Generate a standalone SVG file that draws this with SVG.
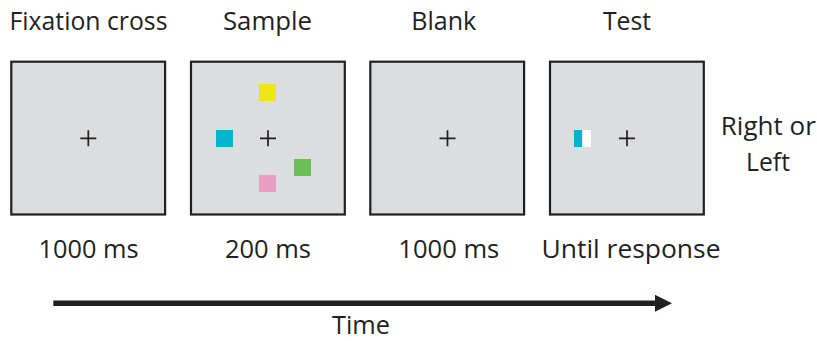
<svg xmlns="http://www.w3.org/2000/svg" width="817" height="341" viewBox="0 0 817 341">
  <defs>
    <style>
      .lbl { font-family: "Open Sans", "Liberation Sans", sans-serif; font-size: 25px; fill: #231F20; text-anchor: middle; }
      .screen { fill: #DCDDDF; stroke: #231F20; stroke-width: 2.2; }
      .cross { stroke: #231F20; stroke-width: 1.7; fill: none; }
      .arrow { stroke: #231F20; stroke-width: 5.4; fill: none; }
    </style>
    <marker id="head" markerUnits="userSpaceOnUse" markerWidth="17" markerHeight="17" viewBox="0 0 17 17" refX="1" refY="8.5" orient="auto">
      <path d="M0,0 L17,8.5 L0,17 Z" fill="#231F20"/>
    </marker>
  </defs>
  <rect width="817" height="341" fill="#FFFFFF"/>

  <g id="fixation">
    <text class="lbl" x="88.5" y="30" textLength="158" lengthAdjust="spacingAndGlyphs">Fixation cross</text>
    <rect class="screen" x="11.3" y="61.7" width="153.8" height="152.8"/>
    <path class="cross" d="M80.3,138.3 H96.3 M88.3,130.3 V146.3"/>
    <text class="lbl" x="88.5" y="258.3" textLength="100" lengthAdjust="spacingAndGlyphs">1000 ms</text>
  </g>

  <g id="sample">
    <text class="lbl" x="267.5" y="30" textLength="89" lengthAdjust="spacingAndGlyphs">Sample</text>
    <rect class="screen" x="191" y="61.7" width="153.8" height="152.8"/>
    <rect x="259" y="84" width="17" height="17" fill="#EEE614"/>
    <rect x="216" y="130" width="17" height="17" fill="#00B4D0"/>
    <rect x="294" y="159" width="17" height="17" fill="#6DBE54"/>
    <rect x="259" y="175" width="17" height="17" fill="#E99DC2"/>
    <path class="cross" d="M260,138.3 H276 M268,130.3 V146.3"/>
    <text class="lbl" x="268" y="258.3" textLength="86" lengthAdjust="spacingAndGlyphs">200 ms</text>
  </g>

  <g id="blank">
    <text class="lbl" x="443.8" y="30" textLength="65" lengthAdjust="spacingAndGlyphs">Blank</text>
    <rect class="screen" x="370.3" y="61.7" width="153.8" height="152.8"/>
    <path class="cross" d="M439.5,138.3 H455.5 M447.5,130.3 V146.3"/>
    <text class="lbl" x="448.8" y="258.3" textLength="101" lengthAdjust="spacingAndGlyphs">1000 ms</text>
  </g>

  <g id="test">
    <text class="lbl" x="627" y="30" textLength="48" lengthAdjust="spacingAndGlyphs">Test</text>
    <rect class="screen" x="550" y="61.7" width="153.8" height="152.8"/>
    <rect x="574" y="130" width="8.3" height="17" fill="#00B4D0"/>
    <rect x="582.3" y="130" width="8.7" height="17" fill="#FFFFFF"/>
    <path class="cross" d="M619,138.3 H635 M627,130.3 V146.3"/>
    <text class="lbl" x="631" y="258.3" textLength="179" lengthAdjust="spacingAndGlyphs">Until response</text>
  </g>

  <g id="response">
    <text class="lbl" x="768.3" y="135" textLength="95" lengthAdjust="spacingAndGlyphs">Right or</text>
    <text class="lbl" x="768" y="170.7" textLength="44" lengthAdjust="spacingAndGlyphs">Left</text>
  </g>

  <g id="connectors">
    <line class="arrow" x1="53.3" y1="303.3" x2="656" y2="303.3" marker-end="url(#head)"/>
  </g>

  <g id="time-label">
    <text class="lbl" x="361" y="334" textLength="58" lengthAdjust="spacingAndGlyphs">Time</text>
  </g>
</svg>
